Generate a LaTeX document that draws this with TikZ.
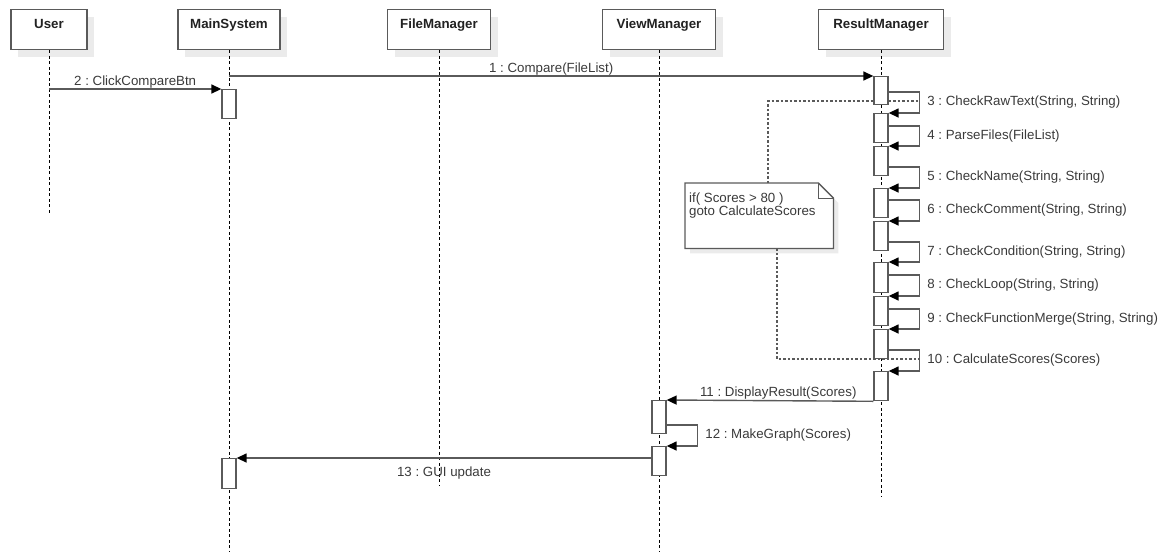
\documentclass[tikz,border=0pt]{standalone}
\usepackage{fontspec}
\setmainfont{Liberation Sans}
\usetikzlibrary{arrows.meta,calc,shadows}
\definecolor{ln}{HTML}{5A5A5A}
\definecolor{tx}{HTML}{3A3A3A}
\definecolor{hd}{HTML}{222222}
\definecolor{shd}{HTML}{EBEBEB}
\begin{document}
\frenchspacing
\begin{tikzpicture}[x=1pt,y=-1pt,
  font=\fontsize{13.3}{13}\selectfont\frenchspacing,
  head/.style={draw=ln, line width=1.3pt, fill=white, minimum height=40pt, inner sep=0pt, anchor=north,
    drop shadow={shadow xshift=7pt, shadow yshift=-7pt, fill=shd, opacity=1}},
  headlbl/.style={anchor=base, yshift=-19pt, inner sep=0pt, font=\fontsize{13.3}{13}\selectfont\bfseries, text=hd},
  lifeline/.style={draw=black, line width=0.9pt, dash pattern=on 3pt off 2.5pt},
  act/.style={draw=ln, line width=1.3pt, fill=white, minimum width=14pt, inner sep=0pt, anchor=north},
  msg/.style={draw=ln, line width=1.4pt, -{Triangle[length=10pt,width=9pt,color=black]}},
  lbl/.style={text=tx, inner sep=0pt},
  mlbl/.style={lbl, anchor=base, yshift=4pt},
  slbl/.style={lbl, anchor=west, xshift=7pt},
  noteln/.style={draw=ln, line width=1.2pt, dash pattern=on 2.5pt off 2pt},
  notebox/.style={anchor=north west, minimum width=148pt, minimum height=65pt, inner sep=0pt}
]
\useasboundingbox (0,0) rectangle (1167,555);

% heads
\node[head, minimum width=76pt,  label={[headlbl]north:User}] (hUser) at (49,9) {};
\node[head, minimum width=102pt, label={[headlbl]north:MainSystem}] (hMain) at (229,9) {};
\node[head, minimum width=103pt, label={[headlbl]north:FileManager}] (hFile) at (439,9) {};
\node[head, minimum width=113pt, label={[headlbl]north:ViewManager}] (hView) at (659,9) {};
\node[head, minimum width=125pt, label={[headlbl]north:ResultManager}] (hRes) at (881,9) {};

% lifeline ends
\coordinate (eUser) at (49,215);
\coordinate (eMain) at (229,552);
\coordinate (eFile) at (439,485);
\coordinate (eView) at (659,552);
\coordinate (eRes) at (881,497);
\draw[lifeline] (hUser.south) -- (eUser);
\draw[lifeline] (hMain.south) -- (eMain);
\draw[lifeline] (hFile.south) -- (eFile);
\draw[lifeline] (hView.south) -- (eView);
\draw[lifeline] (hRes.south) -- (eRes);

% note
\node[notebox] (note) at (685,183) {};
\fill[shd] ($(note.north west)+(5,5)$) -- ($(note.north east)+(-10,5)$) -- ($(note.north east)+(5,20)$)
  -- ($(note.south east)+(5,5)$) -- ($(note.south west)+(5,5)$) -- cycle;
\draw[draw=ln, line width=1.3pt, fill=white] (note.north west) -- ($(note.north east)+(-15,0)$)
  -- ($(note.north east)+(0,15)$) -- (note.south east) -- (note.south west) -- cycle;
\draw[draw=ln, line width=1pt] ($(note.north east)+(-15,0)$) -- ($(note.north east)+(-15,15)$) -- ($(note.north east)+(0,15)$);
\node[lbl, anchor=north west, align=left] (noteText) at ($(note.north west)+(4,9.5)$) {if( Scores > 80 )\\goto CalculateScores};

\coordinate (n3) at (919,101);
\coordinate (n10) at (919,359);
\draw[noteln] (note.north west) ++(83,0) |- (n3);
\draw[noteln] (note.south west) ++(92,0) |- (n10);

% activations
\node[act, minimum height=29pt] (a1) at (229,89) {};
\node[act, minimum height=30pt] (a2) at (229,458) {};
\node[act, minimum height=28pt] (r1) at (881,76) {};
\node[act, minimum height=29pt] (r2) at (881,113) {};
\node[act, minimum height=29pt] (r3) at (881,146) {};
\node[act, minimum height=29pt] (r4) at (881,188) {};
\node[act, minimum height=29pt] (r5) at (881,221) {};
\node[act, minimum height=30pt] (r6) at (881,262) {};
\node[act, minimum height=29pt] (r7) at (881,296) {};
\node[act, minimum height=29pt] (r8) at (881,329) {};
\node[act, minimum height=29pt] (r9) at (881,371) {};
\node[act, minimum height=33pt] (v1) at (659,400) {};
\node[act, minimum height=29pt] (v2) at (659,446) {};

% messages
\draw[msg] (hMain |- r1.north) -- node[mlbl]{1 : Compare(FileList)} (r1.north west);
\draw[msg] (hUser |- a1.north) -- node[mlbl]{2 : ClickCompareBtn} (a1.north west);
\draw[msg] (r1.east |- 0,92) -- ++(31,0) |- node[slbl,pos=0.25]{3 : CheckRawText(String, String)} (r2.north east);
\draw[msg] (r2.east |- 0,126) -- ++(31,0) |- node[slbl,pos=0.25]{4 : ParseFiles(FileList)} (r3.north east);
\draw[msg] (r3.east |- 0,167) -- ++(31,0) |- node[slbl,pos=0.25]{5 : CheckName(String, String)} (r4.north east);
\draw[msg] (r4.east |- 0,200) -- ++(31,0) |- node[slbl,pos=0.25]{6 : CheckComment(String, String)} (r5.north east);
\draw[msg] (r5.east |- 0,242) -- ++(31,0) |- node[slbl,pos=0.25]{7 : CheckCondition(String, String)} (r6.north east);
\draw[msg] (r6.east |- 0,275) -- ++(31,0) |- node[slbl,pos=0.25]{8 : CheckLoop(String, String)} (r7.north east);
\draw[msg] (r7.east |- 0,309) -- ++(31,0) |- node[slbl,pos=0.25]{9 : CheckFunctionMerge(String, String)} (r8.north east);
\draw[msg] (r8.east |- 0,350) -- ++(31,0) |- node[slbl,pos=0.25]{10 : CalculateScores(Scores)} (r9.north east);
\draw[msg] (r9.south west) -- node[mlbl,pos=0.46]{11 : DisplayResult(Scores)} (v1.north east);
\draw[msg] (v1.east |- 0,425) -- ++(31,0) |- node[slbl,pos=0.25]{12 : MakeGraph(Scores)} (v2.north east);
\draw[msg] (v2.west |- a2.north) -- node[lbl, anchor=base, yshift=-18pt]{13 : GUI update} (a2.north east);
\end{tikzpicture}
\end{document}
